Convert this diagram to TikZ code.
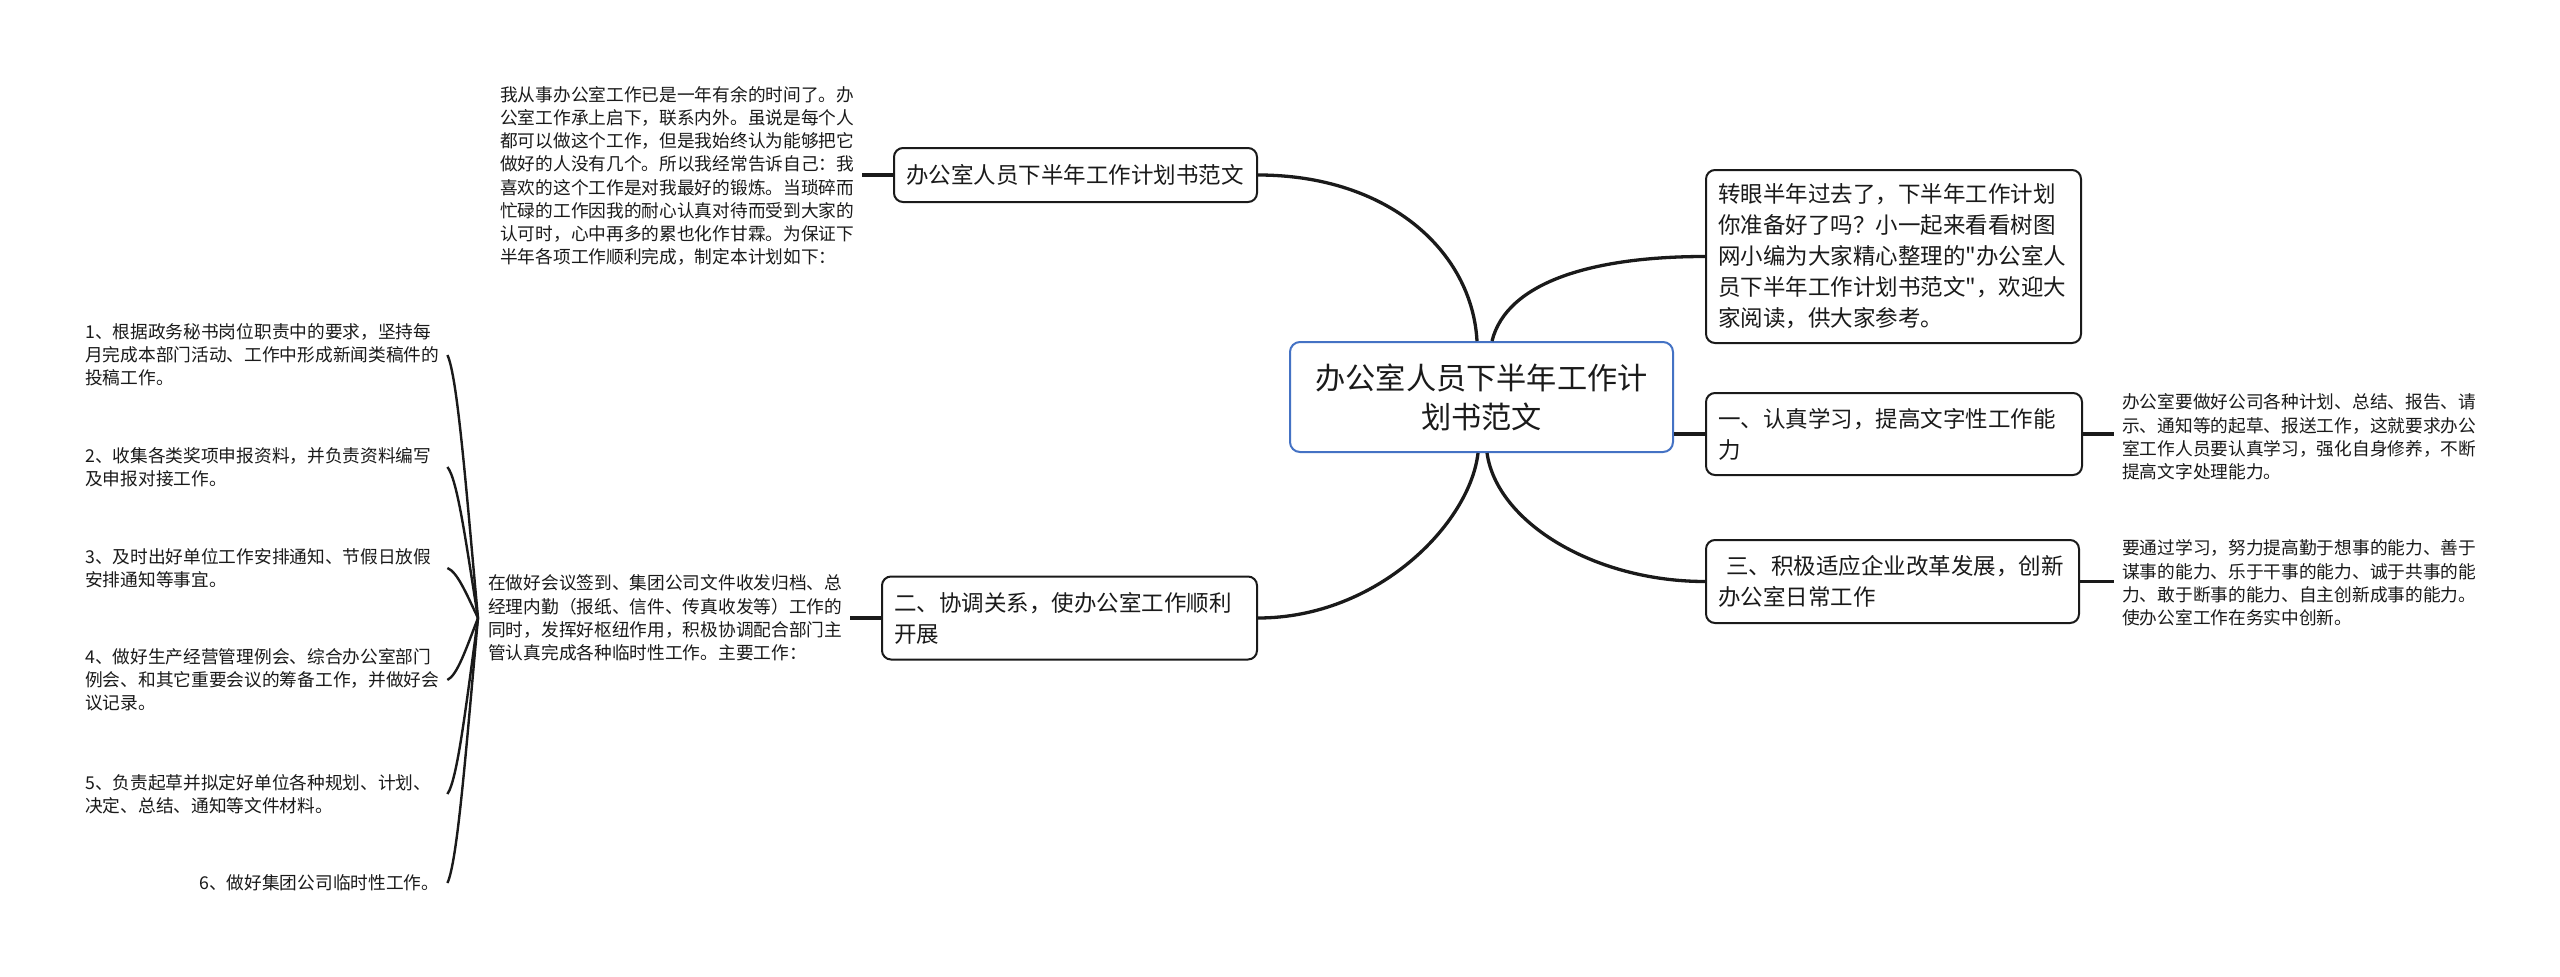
\documentclass[tikz,border=0pt]{standalone}
\usepackage{fontspec}
\setmainfont{Noto Sans CJK SC}[Ligatures=TeXOff]
\usetikzlibrary{calc}
\definecolor{ln}{HTML}{1A1A1A}
\definecolor{cb}{HTML}{4472C4}
\begin{document}
\begin{tikzpicture}[x=1pt,y=-1pt,
  box/.style={draw=ln, line width=2pt, rounded corners=9pt, fill=white, inner xsep=12pt, inner ysep=0pt, align=left, text=ln, font=\fontsize{22.5}{31}\selectfont},
  small/.style={inner sep=0pt, align=left, text=ln, font=\fontsize{17.7}{23.2}\selectfont},
  item/.style={small, text width=354pt},
  conn/.style={draw=ln, line width=3.3pt},
  fan/.style={draw=ln, line width=2.4pt}]
\useasboundingbox[fill=white] (0,0) rectangle (2560,977);

% central
\node[draw=cb, line width=2pt, rounded corners=10pt, fill=white, minimum width=383pt, minimum height=110pt, align=center, text=ln, font=\fontsize{30.2}{39}\selectfont] (c) at (1481.5,397) {办公室人员下半年工作计\\划书范文};

% right side
\node[box, minimum width=375pt, minimum height=173pt, text width=351pt] (intro) at (1893.5,256.5) {转眼半年过去了，下半年工作计划\\你准备好了吗？小一起来看看树图\\网小编为大家精心整理的"办公室人\\员下半年工作计划书范文"，欢迎大\\家阅读，供大家参考。};
\node[box, minimum width=376pt, minimum height=82pt, text width=352pt] (b1) at (1894,434) {一、认真学习，提高文字性工作能\\力};
\node[box, minimum width=373pt, minimum height=83pt, text width=349pt] (b3) at (1892.5,581.5) {\hspace*{8pt}三、积极适应企业改革发展，创新\\办公室日常工作};

\node[small, anchor=west] (d1) at (2122,437) {办公室要做好公司各种计划、总结、报告、请\\示、通知等的起草、报送工作，这就要求办公\\室工作人员要认真学习，强化自身修养，不断\\提高文字处理能力。};
\node[small, anchor=west] (d3) at (2122,583) {要通过学习，努力提高勤于想事的能力、善于\\谋事的能力、乐于干事的能力、诚于共事的能\\力、敢于断事的能力、自主创新成事的能力。\\使办公室工作在务实中创新。};

% left side
\node[box, minimum width=363pt, minimum height=54pt, text width=339pt] (tl) at (1075.5,175) {办公室人员下半年工作计划书范文};
\node[box, minimum width=375pt, minimum height=83pt, text width=351pt] (b2) at (1069.5,618) {二、协调关系，使办公室工作顺利\\开展};

\node[small, anchor=west] (p1) at (500,176) {我从事办公室工作已是一年有余的时间了。办\\公室工作承上启下，联系内外。虽说是每个人\\都可以做这个工作，但是我始终认为能够把它\\做好的人没有几个。所以我经常告诉自己：我\\喜欢的这个工作是对我最好的锻炼。当琐碎而\\忙碌的工作因我的耐心认真对待而受到大家的\\认可时，心中再多的累也化作甘霖。为保证下\\半年各项工作顺利完成，制定本计划如下：};
\node[small, anchor=west] (p2) at (488,618) {在做好会议签到、集团公司文件收发归档、总\\经理内勤（报纸、信件、传真收发等）工作的\\同时，发挥好枢纽作用，积极协调配合部门主\\管认真完成各种临时性工作。主要工作：};

\node[item, anchor=west] (i1) at (85,355) {1、根据政务秘书岗位职责中的要求，坚持每\\月完成本部门活动、工作中形成新闻类稿件的\\投稿工作。};
\node[item, anchor=west] (i2) at (85,467) {2、收集各类奖项申报资料，并负责资料编写\\及申报对接工作。};
\node[item, anchor=west] (i3) at (85,568) {3、及时出好单位工作安排通知、节假日放假\\安排通知等事宜。};
\node[item, anchor=west] (i4) at (85,680) {4、做好生产经营管理例会、综合办公室部门\\例会、和其它重要会议的筹备工作，并做好会\\议记录。};
\node[item, anchor=west] (i5) at (85,794) {5、负责起草并拟定好单位各种规划、计划、\\决定、总结、通知等文件材料。};
\node[item, anchor=west, align=right] (i6) at (85,883) {6、做好集团公司临时性工作。};

% main connectors
\draw[conn] (tl.east) .. controls +(130,0) and +(-5,-90) .. ($(c.north)+(-4.5,0)$);
\draw[conn] ($(c.north)+(10.5,0)$) .. controls +(15,-60) and +(-110,0) .. (intro.west);
\draw[conn] (c.east |- b1.west) -- (b1.west);
\draw[conn] ($(c.south)+(-3.5,0)$) .. controls +(-8,70) and +(120,0) .. (b2.east);
\draw[conn] ($(c.south)+(5.5,0)$) .. controls +(10,70) and +(-110,0) .. (b3.west);

% box to text
\draw[conn] (tl.west) -- ($(tl.west -| p1.east)+(8,0)$);
\draw[conn] (b2.west) -- ($(b2.west -| p2.east)+(8,0)$);
\draw[conn] (b1.east) -- ($(b1.east -| d1.west)+(-8,0)$);
\draw[conn] (b3.east) -- ($(b3.east -| d3.west)+(-8,0)$);

% fan to items
\coordinate (hub) at ($(p2.west)+(-10,0)$);
\draw[fan] (hub) .. controls +(-12,-131.5) and +(10,21) .. ($(i1.east)+(8,0)$);
\draw[fan] (hub) .. controls +(-12,-75.5) and +(10,12) .. ($(i2.east)+(8,0)$);
\draw[fan] (hub) .. controls +(-12,-25) and +(10,4) .. ($(i3.east)+(8,0)$);
\draw[fan] (hub) .. controls +(-12,31) and +(10,-5) .. ($(i4.east)+(8,0)$);
\draw[fan] (hub) .. controls +(-12,88) and +(10,-14) .. ($(i5.east)+(8,0)$);
\draw[fan] (hub) .. controls +(-12,132.5) and +(10,-21) .. ($(i6.east)+(8,0)$);
\end{tikzpicture}
\end{document}
